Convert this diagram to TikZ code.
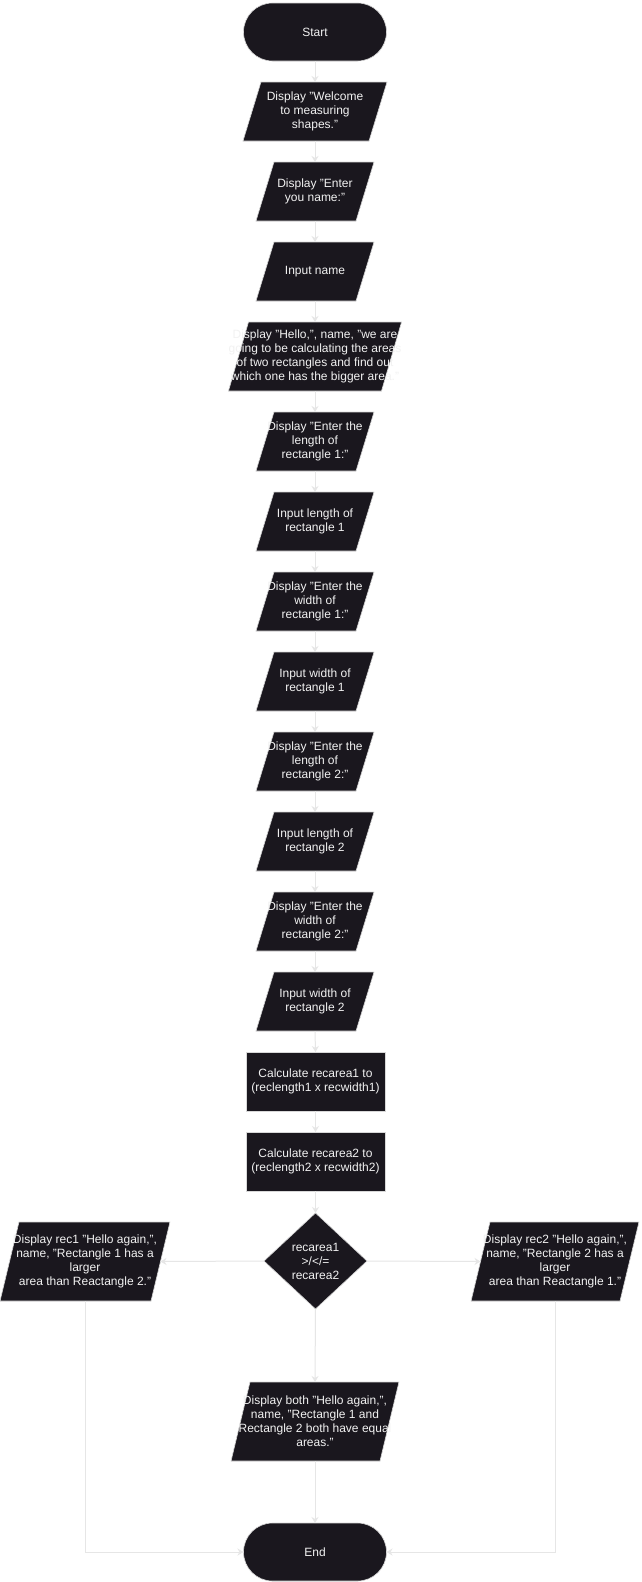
\documentclass[tikz,border=0pt]{standalone}
\usepackage{fontspec}
\setmainfont{Liberation Sans}
\usetikzlibrary{shapes.geometric,arrows.meta}

\definecolor{boxfill}{HTML}{1A171E}
\definecolor{boxtext}{HTML}{F2F2F2}
\definecolor{flowgray}{HTML}{E6E6E6}
\definecolor{edgegray}{HTML}{D8D8D8}

\tikzset{
	base/.style={fill=boxfill, draw=edgegray, line width=0.6pt, text=boxtext, font=\fontsize{12}{14}\selectfont, align=center, inner sep=1pt, outer sep=0pt},
	term/.style={base, rectangle, rounded corners=29pt, minimum width=143pt, minimum height=58pt},
	proc/.style={base, rectangle, minimum width=139pt, minimum height=59pt},
	io/.style={base, trapezium, trapezium left angle=73, trapezium right angle=107, inner xsep=41pt, inner ysep=29.5pt},
	iotall/.style={io, trapezium left angle=76.5, trapezium right angle=103.5, inner xsep=66pt, inner ysep=39.5pt},
	decision/.style={base, diamond, minimum width=103pt, minimum height=96pt},
	txt/.style={text=boxtext, font=\fontsize{12}{14}\selectfont, align=center, inner sep=0pt},
	flow/.style={draw=flowgray, line width=1pt, -{Stealth[length=6pt,width=7pt]}}
}

\begin{document}
\begin{tikzpicture}[x=1pt, y=-1pt]
				\useasboundingbox[fill=white] (0,0) rectangle (641,1582);

				% main column
				\node[term] (start) at (315,32) {Start};
				\node[io, inner xsep=54pt, label={[txt]center:{Display "Welcome\\to measuring\\shapes."}}] (welcome) at (315,111.5) {};
				\node[io, label={[txt]center:{Display "Enter\\you name:"}}] (askname) at (315,191.5) {};
				\node[io, label={[txt]center:{Input name}}] (inname) at (315,271.5) {};
				\node[io, trapezium left angle=73.8, trapezium right angle=106.2, inner xsep=66.5pt, inner ysep=34.5pt, label={[txt]center:{Display "Hello,", name, "we are\\going to be calculating the areas\\of two rectangles and find out\\which one has the bigger area."}}] (hello) at (315,356.5) {};
				\node[io, label={[txt]center:{Display "Enter the\\length of\\rectangle 1:"}}] (asklen1) at (315,441.5) {};
				\node[io, label={[txt]center:{Input length of\\rectangle 1}}] (inlen1) at (315,521.5) {};
				\node[io, label={[txt]center:{Display "Enter the\\width of\\rectangle 1:"}}] (askwid1) at (315,601.5) {};
				\node[io, label={[txt]center:{Input width of\\rectangle 1}}] (inwid1) at (315,681.5) {};
				\node[io, label={[txt]center:{Display "Enter the\\length of\\rectangle 2:"}}] (asklen2) at (315,761.5) {};
				\node[io, label={[txt]center:{Input length of\\rectangle 2}}] (inlen2) at (315,841.5) {};
				\node[io, label={[txt]center:{Display "Enter the\\width of\\rectangle 2:"}}] (askwid2) at (315,921.5) {};
				\node[io, label={[txt]center:{Input width of\\rectangle 2}}] (inwid2) at (315,1001.5) {};
				\node[proc] (calc1) at (315.5,1081.5) {Calculate recarea1 to\\(reclength1 x recwidth1)};
				\node[proc] (calc2) at (315.5,1161.5) {Calculate recarea2 to\\(reclength2 x recwidth2)};
				\node[decision] (compare) at (315.5,1261) {recarea1\\>/</=\\recarea2};

				% the three outcomes
				\node[iotall, label={[txt]center:{Display rec1 "Hello again,",\\name, "Rectangle 1 has a\\larger\\ area than Reactangle 2."}}] (rec1big) at (85,1261.5) {};
				\node[iotall, inner xsep=65pt, label={[txt]center:{Display rec2 "Hello again,",\\name, "Rectangle 2 has a\\larger\\ area than Reactangle 1."}}] (rec2big) at (555,1261.5) {};
				\node[iotall, inner xsep=65pt, label={[txt]center:{Display both "Hello again,",\\name, "Rectangle 1 and\\Rectangle 2 both have equal\\areas."}}] (same) at (315,1421.5) {};
				\node[term] (end) at (315,1552) {End};

				% connectors
				\foreach \a/\b in {start/welcome, welcome/askname, askname/inname, inname/hello, hello/asklen1, asklen1/inlen1, inlen1/askwid1, askwid1/inwid1, inwid1/asklen2, asklen2/inlen2, inlen2/askwid2, askwid2/inwid2, inwid2/calc1, calc1/calc2, calc2/compare, compare/same, same/end}
					\draw[flow] (\a.south) -- (\b.north);
				\draw[flow] (compare.west) -- (rec1big.east);
				\draw[flow] (compare.east) -- (rec2big.west);
				\draw[flow] (rec1big.south) |- (end.west);
				\draw[flow] (rec2big.south) |- (end.east);
			\end{tikzpicture}
\end{document}
